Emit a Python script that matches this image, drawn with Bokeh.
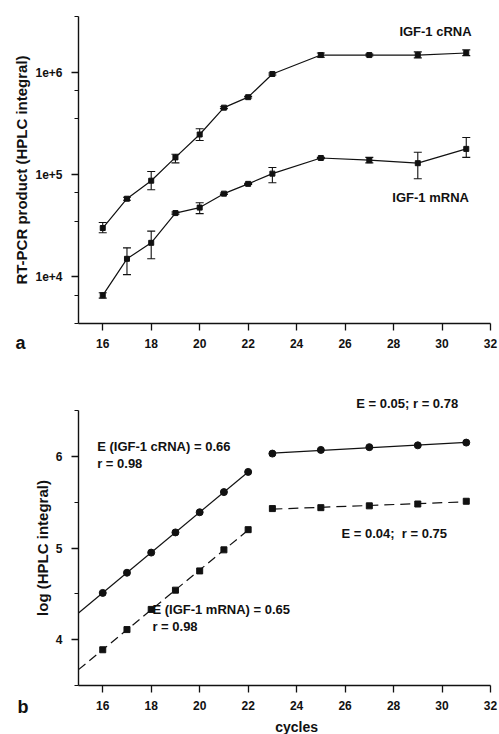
import numpy as np
from bokeh.plotting import figure
from bokeh.models import (Range1d, FixedTicker, Whisker, TeeHead, ColumnDataSource,
                          Label, CustomJSTickFormatter)
from bokeh.layouts import column
from bokeh.embed import file_html
from bokeh.resources import INLINE

# ---------------- data: panel a ----------------
cycles_a = [16, 17, 18, 19, 20, 21, 22, 23, 25, 27, 29, 31]
crna_a = [3.0e4, 5.8e4, 8.7e4, 1.47e5, 2.46e5, 4.5e5, 5.7e5, 9.6e5, 1.47e6, 1.47e6, 1.47e6, 1.54e6]
crna_a_lo = [2.7e4, 5.6e4, 7.1e4, 1.30e5, 2.15e5, 4.4e5, 5.6e5, 9.4e5, 1.40e6, 1.44e6, 1.38e6, 1.45e6]
crna_a_hi = [3.4e4, 6.0e4, 1.07e5, 1.58e5, 2.80e5, 4.6e5, 5.8e5, 9.8e5, 1.54e6, 1.50e6, 1.58e6, 1.65e6]
mrna_a = [6.6e3, 1.5e4, 2.15e4, 4.2e4, 4.75e4, 6.5e4, 8.1e4, 1.02e5, 1.45e5, 1.38e5, 1.29e5, 1.78e5]
mrna_a_lo = [6.2e3, 1.05e4, 1.5e4, 4.1e4, 4.15e4, 6.4e4, 8.0e4, 8.3e4, 1.43e5, 1.30e5, 0.91e5, 1.47e5]
mrna_a_hi = [7.0e3, 1.92e4, 2.8e4, 4.3e4, 5.3e4, 6.6e4, 8.2e4, 1.17e5, 1.47e5, 1.47e5, 1.65e5, 2.30e5]
y_major_a = [1e4, 1e5, 1e6]
y_minor_a = [3.5e3, 6.6e3, 3.5e4, 6.6e4, 3.5e5, 6.6e5, 3.5e6]

# ---------------- data: panel b ----------------
cycles_exp = [16, 17, 18, 19, 20, 21, 22]
crna_exp = [4.51, 4.73, 4.95, 5.17, 5.39, 5.61, 5.83]
mrna_exp = [3.89, 4.11, 4.33, 4.54, 4.75, 4.98, 5.20]
cycles_plat = [23, 25, 27, 29, 31]
crna_plat = [6.03, 6.07, 6.10, 6.12, 6.15]
mrna_plat = [5.43, 5.44, 5.46, 5.48, 5.51]
y_major_b = [4, 5, 6]
y_minor_b = [3.5, 4.5, 5.5, 6.5]
x_ticks = [16, 18, 20, 22, 24, 26, 28, 30, 32]

FONT = "Liberation Sans"
BLACK = "#111111"


def style(p, ystandoff):
    p.outline_line_color = None
    p.xgrid.visible = False
    p.ygrid.visible = False
    p.background_fill_color = "white"
    p.border_fill_color = "white"
    for ax in list(p.xaxis) + list(p.yaxis):
        ax.axis_line_color = BLACK
        ax.axis_line_width = 1.4
        ax.major_tick_line_color = BLACK
        ax.minor_tick_line_color = BLACK
        ax.major_tick_line_width = 1.3
        ax.minor_tick_line_width = 1
        ax.major_tick_out = 7
        ax.major_tick_in = 0
        ax.minor_tick_out = 4
        ax.minor_tick_in = 0
        ax.major_label_text_font = FONT
        ax.major_label_text_font_style = "bold"
        ax.major_label_text_font_size = "12px"
        ax.major_label_text_color = BLACK
        ax.axis_label_text_font = FONT
        ax.axis_label_text_font_style = "bold"
        ax.axis_label_text_font_size = "15px"
        ax.axis_label_text_color = BLACK
    for ax in p.xaxis:
        ax.major_label_standoff = 8
    for ax in p.yaxis:
        ax.major_label_standoff = ystandoff
        ax.axis_label_standoff = 2


def mk_label(x, y, text, size="13px", xo=0, yo=0, align="left", baseline="middle"):
    return Label(x=x, y=y, text=text, x_offset=xo, y_offset=yo,
                 text_font=FONT, text_font_style="bold", text_font_size=size,
                 text_color=BLACK, text_align=align, text_baseline=baseline)


# ---------------- panel a ----------------
pa = figure(width=499, height=360, x_range=Range1d(15, 32), y_range=Range1d(3.5e3, 3.5e6),
            y_axis_type="log", output_backend="svg", toolbar_location=None,
            min_border_left=78, min_border_right=9, min_border_top=16, min_border_bottom=37)
style(pa, 9)
pa.xaxis.ticker = FixedTicker(ticks=x_ticks)
pa.yaxis.ticker = FixedTicker(ticks=y_major_a, minor_ticks=y_minor_a)
pa.yaxis.formatter = CustomJSTickFormatter(code='return "1e+" + Math.round(Math.log10(tick));')
pa.yaxis.axis_label = "RT-PCR product (HPLC integral)"

src_c = ColumnDataSource(dict(x=cycles_a, y=crna_a, lo=crna_a_lo, hi=crna_a_hi))
src_m = ColumnDataSource(dict(x=cycles_a, y=mrna_a, lo=mrna_a_lo, hi=mrna_a_hi))
for src in (src_c, src_m):
    pa.line("x", "y", source=src, line_color=BLACK, line_width=1.2)
    pa.add_layout(Whisker(source=src, base="x", upper="hi", lower="lo", line_color=BLACK,
                          line_width=1.1,
                          upper_head=TeeHead(size=8, line_color=BLACK, line_width=1.1),
                          lower_head=TeeHead(size=8, line_color=BLACK, line_width=1.1)))
    pa.scatter("x", "y", source=src, marker="square", size=5, color=BLACK)

pa.add_layout(mk_label(28.24, 2.5e6, "IGF-1 cRNA"))
pa.add_layout(mk_label(27.95, 5.96e4, "IGF-1 mRNA"))
pa.add_layout(mk_label(15, 3.5e3, "a", size="18px", xo=-63, yo=-19), "left")

# ---------------- panel b ----------------
pb = figure(width=499, height=374, x_range=Range1d(15, 32), y_range=Range1d(3.5, 6.5),
            output_backend="svg", toolbar_location=None,
            min_border_left=73, min_border_right=7, min_border_top=50, min_border_bottom=49)
style(pb, 9)
pb.xaxis.ticker = FixedTicker(ticks=x_ticks)
pb.yaxis.ticker = FixedTicker(ticks=y_major_b, minor_ticks=y_minor_b)
pb.yaxis.axis_label = "log (HPLC integral)"

# regression lines
k1 = np.polyfit(cycles_exp, crna_exp, 1)
k2 = np.polyfit(cycles_exp, mrna_exp, 1)
k3 = np.polyfit(cycles_plat, crna_plat, 1)
k4 = np.polyfit(cycles_plat, mrna_plat, 1)
xe = np.array([15, cycles_exp[-1]])
xp = np.array([cycles_plat[0], cycles_plat[-1]])
pb.line(xe, np.polyval(k1, xe), line_color=BLACK, line_width=1.2)
pb.line(xe, np.polyval(k2, xe), line_color=BLACK, line_width=1.2, line_dash="9 5")
pb.line(xp, np.polyval(k3, xp), line_color=BLACK, line_width=1.2)
pb.line(xp, np.polyval(k4, xp), line_color=BLACK, line_width=1.2, line_dash="10 6")

pb.scatter(cycles_exp, crna_exp, marker="circle", size=7, color=BLACK)
pb.scatter(cycles_plat, crna_plat, marker="circle", size=7, color=BLACK)
pb.scatter(cycles_exp, mrna_exp, marker="square", size=6, color=BLACK)
pb.scatter(cycles_plat, mrna_plat, marker="square", size=6, color=BLACK)

pb.add_layout(mk_label(26.46, 6.5, "E = 0.05; r = 0.78", yo=7), "above")
pb.add_layout(mk_label(25.85, 5.16, "E = 0.04;\u00a0 r = 0.75"))
pb.add_layout(mk_label(15.77, 6.11, "E (IGF-1 cRNA) = 0.66"))
pb.add_layout(mk_label(15.77, 5.92, "r = 0.98"))
pb.add_layout(mk_label(18.05, 4.33, "E (IGF-1 mRNA) = 0.65"))
pb.add_layout(mk_label(18.05, 4.14, "r = 0.98"))
pb.add_layout(mk_label(24.0, 3.5, "cycles", size="14px", yo=-41, align="center"), "below")
pb.add_layout(mk_label(15, 3.5, "b", size="18px", xo=-61, yo=-21), "left")

layout = column(pa, pb)
open("out.html", "w").write(file_html(layout, INLINE))
